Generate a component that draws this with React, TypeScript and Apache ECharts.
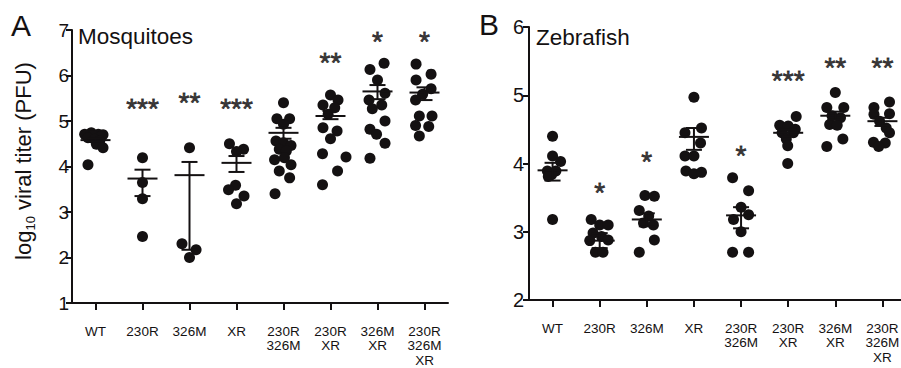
import React, { useEffect, useRef } from 'react';
import * as echarts from 'echarts';

const categories = ['WT', '230R', '326M', 'XR', '230R\n326M', '230R\nXR', '326M\nXR', '230R\n326M\nXR'];

// Panel A – Mosquitoes (log10 PFU)
const pointsA: number[][] = [
  [4.74, 4.71, 4.71, 4.70, 4.68, 4.66, 4.63, 4.60, 4.56, 4.49, 4.41, 4.04],
  [4.19, 3.65, 3.29, 2.46],
  [4.41, 2.30, 2.17, 2.00],
  [4.50, 4.38, 4.33, 3.59, 3.49, 3.35, 3.18],
  [5.40, 5.05, 5.05, 4.93, 4.56, 4.52, 4.46, 4.38, 4.34, 4.15, 4.19, 4.04, 3.90, 3.75, 3.40],
  [5.57, 5.46, 5.35, 5.29, 5.15, 4.85, 4.78, 4.61, 4.28, 4.21, 3.90, 3.60],
  [6.27, 6.13, 5.90, 5.61, 5.46, 5.35, 5.27, 5.00, 4.82, 4.71, 4.51, 4.18],
  [6.25, 6.03, 5.90, 5.71, 5.59, 5.46, 5.11, 5.11, 4.90, 4.88, 4.67],
];
const jitterA: number[][] = [
  [-0.09, -0.23, 0.06, 0.16, -0.05, 0.12, -0.16, -0.02, 0.09, 0.02, 0.16, -0.16],
  [0, 0, 0, 0],
  [0, -0.16, 0.14, 0],
  [-0.15, 0.15, 0, -0.02, -0.17, 0.16, 0],
  [0, -0.14, 0.13, 0, -0.16, 0, 0.16, -0.09, 0.06, -0.19, 0.02, 0.16, -0.09, 0.13, -0.18],
  [0, 0.16, -0.16, 0.09, -0.05, -0.16, 0.14, 0, -0.17, 0.33, 0.15, -0.17],
  [0.14, -0.16, 0, 0.16, -0.18, 0.09, -0.11, 0.16, -0.16, -0.02, 0.16, -0.16],
  [-0.18, 0.14, -0.18, 0.14, -0.04, -0.19, -0.11, 0.16, -0.19, 0.09, -0.11],
];
const meansA = [4.58, 3.735, 3.81, 4.08, 4.74, 5.11, 5.65, 5.625];
const lowA = [4.54, 3.35, 2.17, 3.88, 4.61, 5.04, 5.48, 5.46];
const highA = [4.62, 3.93, 4.10, 4.23, 4.85, 5.22, 5.79, 5.74];
const sigA = ['', '***', '**', '***', '', '**', '*', '*'];
const sigYA = [0, 5.40, 5.53, 5.40, 0, 6.41, 6.89, 6.89];

// Panel B – Zebrafish
const pointsB: number[][] = [
  [4.40, 4.11, 4.03, 3.89, 3.89, 3.84, 3.81, 3.18],
  [3.18, 3.10, 3.10, 2.98, 2.93, 2.87, 2.88, 2.70, 2.70],
  [3.53, 3.52, 3.31, 3.23, 3.13, 3.10, 2.88, 2.70],
  [4.97, 4.52, 4.45, 4.30, 4.11, 4.11, 3.89, 3.85, 3.87],
  [3.79, 3.60, 3.36, 3.25, 3.18, 3.00, 2.70, 2.70],
  [4.69, 4.56, 4.55, 4.50, 4.45, 4.45, 4.36, 4.26, 4.00],
  [5.04, 4.82, 4.82, 4.70, 4.67, 4.57, 4.56, 4.36, 4.25],
  [4.90, 4.82, 4.73, 4.72, 4.62, 4.52, 4.45, 4.31, 4.30, 4.25],
];
const jitterB: number[][] = [
  [0, 0, 0.17, -0.11, 0.07, -0.02, -0.09, 0],
  [-0.18, 0, 0.18, -0.14, 0.04, -0.21, 0.18, -0.09, 0.07],
  [-0.04, 0.16, -0.16, 0.04, -0.07, 0.14, 0.16, -0.16],
  [0, 0.16, -0.19, 0.14, -0.19, 0, -0.17, 0, 0.16],
  [-0.18, 0.16, 0, 0.16, -0.16, 0, -0.18, 0.16],
  [0.17, -0.18, 0, 0.15, -0.13, 0.11, -0.04, -0.01, -0.01],
  [0, -0.18, 0.18, -0.07, 0.11, -0.12, 0.04, 0.16, -0.18],
  [0.15, -0.18, 0.15, -0.18, -0.06, 0.08, 0.15, -0.19, 0.06, -0.08],
];
const meansB = [3.90, 2.87, 3.18, 4.39, 3.24, 4.45, 4.70, 4.62];
const lowB = [3.75, 2.76, 3.08, 4.20, 3.05, 4.40, 4.64, 4.55];
const highB = [4.01, 2.98, 3.27, 4.52, 3.36, 4.50, 4.76, 4.67];
const sigB = ['', '*', '*', '', '*', '***', '**', '**'];
const sigYB = [0, 3.67, 4.11, 0, 4.21, 5.31, 5.50, 5.50];

const INK = '#141112';
const FONT = '"Liberation Sans", Arial, Helvetica, sans-serif';

function buildPanelSeries(
  p: number,
  points: number[][],
  jitter: number[][],
  means: number[],
  low: number[],
  high: number[],
  sig: string[],
  sigY: number[]
) {
  const dots: number[][] = [];
  points.forEach((arr, i) => arr.forEach((v, k) => dots.push([i + jitter[i][k], v])));
  const bars = means.map((m, i) => [i, m, low[i], high[i]]);
  const stars = sig
    .map((s, i) => ({ name: s, value: [i, sigY[i]] }))
    .filter((d) => d.name !== '');
  return [
    {
      type: 'scatter',
      xAxisIndex: 2 + p,
      yAxisIndex: p,
      data: dots,
      symbolSize: 11,
      itemStyle: { color: INK, opacity: 1 },
      silent: true,
      z: 2,
    },
    {
      type: 'custom',
      xAxisIndex: 2 + p,
      yAxisIndex: p,
      data: bars,
      silent: true,
      z: 3,
      renderItem: (_params: any, api: any) => {
        const x = api.value(0);
        const m = api.coord([x, api.value(1)]);
        const lo = api.coord([x, api.value(2)]);
        const hi = api.coord([x, api.value(3)]);
        const style = { stroke: INK, lineWidth: 2, fill: null };
        return {
          type: 'group',
          children: [
            { type: 'line', shape: { x1: m[0] - 15, y1: m[1], x2: m[0] + 15, y2: m[1] }, style },
            { type: 'line', shape: { x1: lo[0], y1: lo[1], x2: hi[0], y2: hi[1] }, style },
            { type: 'line', shape: { x1: hi[0] - 8, y1: hi[1], x2: hi[0] + 8, y2: hi[1] }, style },
            { type: 'line', shape: { x1: lo[0] - 8, y1: lo[1], x2: lo[0] + 8, y2: lo[1] }, style },
          ],
        };
      },
    },
    {
      type: 'scatter',
      xAxisIndex: 2 + p,
      yAxisIndex: p,
      data: stars,
      symbolSize: 1,
      itemStyle: { color: 'rgba(0,0,0,0)' },
      silent: true,
      label: {
        show: true,
        position: 'inside',
        formatter: '{b}',
        fontSize: 28,
        fontFamily: FONT,
        color: INK,
        textBorderColor: INK,
        textBorderWidth: 0.8,
        offset: [0, 6],
      },
    },
  ];
}

function catAxis(grid: number) {
  return {
    type: 'category',
    gridIndex: grid,
    data: categories,
    boundaryGap: true,
    axisLine: { show: true, onZero: false, lineStyle: { color: INK, width: 2 } },
    axisTick: { show: true, alignWithLabel: true, length: 7, lineStyle: { color: INK, width: 2 } },
    axisLabel: {
      color: INK,
      fontSize: 13.5,
      fontFamily: FONT,
      lineHeight: 14.5,
      margin: 21,
      interval: 0,
    },
    splitLine: { show: false },
  };
}

function valXAxis(grid: number) {
  return { type: 'value', gridIndex: grid, min: -0.5, max: 7.5, show: false, axisLine: { onZero: false } };
}

function yAxis(grid: number, min: number, max: number, fontSize: number, margin: number) {
  return {
    type: 'value',
    gridIndex: grid,
    min,
    max,
    interval: 1,
    axisLine: { show: true, onZero: false, lineStyle: { color: INK, width: 2 } },
    axisTick: { show: true, length: 6, lineStyle: { color: INK, width: 2 } },
    axisLabel: { color: INK, fontSize, fontFamily: FONT, margin },
    splitLine: { show: false },
  };
}

export default function App() {
  const ref = useRef<HTMLDivElement>(null);
  useEffect(() => {
    if (!ref.current) return;
    const chart = echarts.init(ref.current, undefined, { renderer: 'svg' });
    const option: any = {
      animation: false,
      backgroundColor: '#ffffff',
      textStyle: { fontFamily: FONT },
      grid: [
        { left: 72, top: 30, width: 376, height: 273, containLabel: false, outerBoundsMode: 'none' },
        { left: 529, top: 27, width: 377, height: 273, containLabel: false, outerBoundsMode: 'none' },
      ],
      xAxis: [catAxis(0), catAxis(1), valXAxis(0), valXAxis(1)],
      yAxis: [yAxis(0, 1, 7, 19, 3), yAxis(1, 2, 6, 20, 5)],
      series: [
        ...buildPanelSeries(0, pointsA, jitterA, meansA, lowA, highA, sigA, sigYA),
        ...buildPanelSeries(1, pointsB, jitterB, meansB, lowB, highB, sigB, sigYB),
      ],
      graphic: [
        {
          type: 'text',
          x: 11,
          y: 25.6,
          style: { text: 'A', fontSize: 30, fontFamily: FONT, fill: INK, textAlign: 'left', textVerticalAlign: 'middle' },
        },
        {
          type: 'text',
          x: 479,
          y: 24.6,
          style: { text: 'B', fontSize: 30, fontFamily: FONT, fill: INK, textAlign: 'left', textVerticalAlign: 'middle' },
        },
        {
          type: 'text',
          x: 78,
          y: 36,
          style: { text: 'Mosquitoes', fontSize: 22.5, fontFamily: FONT, fill: INK, textAlign: 'left', textVerticalAlign: 'middle' },
        },
        {
          type: 'text',
          x: 536,
          y: 37,
          style: { text: 'Zebrafish', fontSize: 22.5, fontFamily: FONT, fill: INK, textAlign: 'left', textVerticalAlign: 'middle' },
        },
        {
          type: 'text',
          x: 23.5,
          y: 161,
          rotation: Math.PI / 2,
          style: {
            text: '{a|log}{b|10}{a| viral titer (PFU)}',
            textAlign: 'center',
            textVerticalAlign: 'middle',
            fill: INK,
            rich: {
              a: { fontSize: 22, fontFamily: FONT, fill: INK, color: INK, lineHeight: 26, verticalAlign: 'middle' },
              b: { fontSize: 13, fontFamily: FONT, fill: INK, color: INK, lineHeight: 12, verticalAlign: 'bottom' },
            },
          },
        },
      ],
    };
    chart.setOption(option);
    return () => chart.dispose();
  }, []);
  return (
    <div
      ref={ref}
      style={{ position: 'fixed', left: 0, top: 0, width: 901, height: 368, background: '#fff' }}
    />
  );
}
